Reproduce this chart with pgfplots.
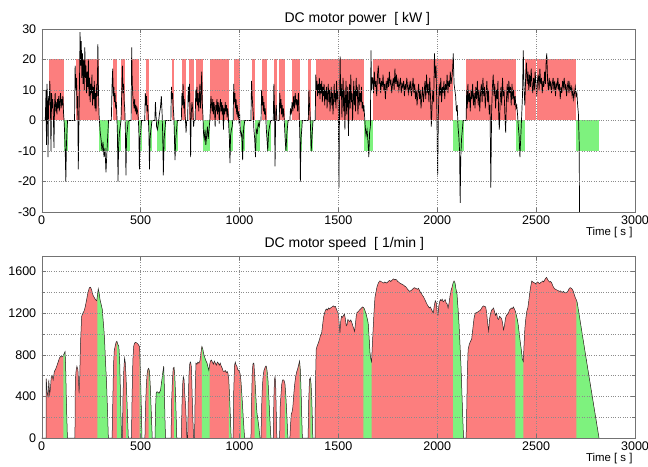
\documentclass[border=0pt]{standalone}
\usepackage{fontspec}
\setmainfont{Liberation Sans}
\usepackage{pgfplots}
\usepackage{pgfplotstable}
\pgfplotsset{compat=1.18}

\definecolor{redfill}{RGB}{252,126,126}
\definecolor{greenfill}{RGB}{126,242,126}

\pgfplotsset{
  gnu/.style={
    scale only axis, width=593.3pt,
    xmin=0, xmax=3000, xtick={0,500,...,3000},
    axis on top, grid style={dotted, black!45}, minor grid style={dotted, black!45},
    axis line style={black!55}, tick style={black!55}, tick align=inside,
    ticklabel style={font=\fontsize{12.5}{14}\selectfont},
    yticklabel style={xshift=-2pt},
    /pgf/number format/assume math mode=true,
    /pgf/number format/set thousands separator={},
    scaled ticks=false,
    title style={anchor=south, font=\fontsize{14}{16}\selectfont},
    xlabel={Time [ s ]},
    xlabel style={at={(axis description cs:1,0)}, anchor=north east,
      yshift=-12pt, xshift=1pt, font=\fontsize{11.4}{13}\selectfont},
  }
}

% speed profile [1/min] over time [s]
\pgfplotstableread[row sep=\\]{
t v\\
0 0\\ 20 0\\ 22 0\\ 23 570\\ 28 430\\ 32 400\\ 36 560\\ 40 420\\ 44 470\\ 48 580\\ 53 600\\ 58 560\\
64 640\\ 70 660\\ 76 690\\ 84 735\\ 90 770\\ 96 784\\ 102 780\\ 109 790\\ 113 810\\ 118 830\\ 121 700\\
124 420\\ 127 200\\ 130 0\\
168 0\\ 170 560\\ 174 650\\ 178 690\\ 183 660\\ 187 520\\ 189 430\\ 192 560\\ 196 900\\ 202 1170\\
208 1200\\ 214 1220\\ 220 1260\\ 227 1330\\ 234 1400\\ 241 1445\\ 247 1450\\ 253 1420\\ 260 1370\\
266 1350\\ 272 1330\\ 278 1320\\ 282 1370\\ 286 1435\\ 290 1400\\ 295 1330\\ 300 1290\\ 306 1240\\
312 1100\\ 317 980\\ 322 760\\ 328 525\\ 333 250\\ 337 0\\
356 0\\ 359 300\\ 363 700\\ 367 840\\ 371 880\\ 376 920\\ 380 930\\ 385 900\\ 390 880\\ 394 760\\
398 450\\ 401 200\\ 404 0\\
408 0\\ 411 400\\ 415 650\\ 419 770\\ 423 720\\ 427 560\\ 430 420\\ 434 200\\ 438 0\\
454 0\\ 457 400\\ 461 750\\ 465 880\\ 469 910\\ 474 920\\ 480 915\\ 486 905\\ 491 890\\ 495 880\\
499 650\\ 502 420\\ 505 180\\ 507 0\\
522 0\\ 525 300\\ 529 500\\ 533 620\\ 537 660\\ 541 670\\ 545 640\\ 549 500\\ 553 300\\ 557 100\\ 559 0\\
573 0\\ 576 300\\ 579 430\\ 583 445\\ 588 440\\ 593 430\\ 597 445\\ 601 460\\ 605 520\\ 609 580\\
613 640\\ 617 690\\ 620 500\\ 623 200\\ 626 0\\
654 0\\ 657 350\\ 661 560\\ 665 670\\ 669 680\\ 673 600\\ 677 400\\ 680 200\\ 683 0\\
706 0\\ 709 300\\ 713 520\\ 716 590\\ 720 560\\ 724 400\\ 728 300\\ 731 150\\ 734 0\\
738 0\\ 741 350\\ 745 620\\ 749 720\\ 753 730\\ 757 680\\ 761 400\\ 765 150\\ 768 0\\
773 0\\ 776 450\\ 780 720\\ 785 710\\ 790 730\\ 795 720\\ 800 740\\ 805 820\\ 810 880\\ 814 860\\
818 820\\ 822 790\\ 827 760\\ 831 740\\ 836 720\\ 841 680\\ 845 650\\ 849 700\\ 853 740\\ 858 750\\
863 730\\ 868 710\\ 873 740\\ 878 720\\ 883 700\\ 888 730\\ 893 720\\ 898 700\\ 903 720\\ 908 690\\
913 670\\ 918 640\\ 923 640\\ 928 650\\ 933 630\\ 938 640\\ 942 620\\ 946 560\\ 950 400\\ 954 200\\ 958 0\\
968 0\\ 971 450\\ 975 700\\ 979 730\\ 983 700\\ 987 690\\ 991 660\\ 995 650\\ 999 640\\ 1003 620\\
1007 560\\ 1011 450\\ 1015 330\\ 1019 200\\ 1023 80\\ 1026 0\\
1058 0\\ 1061 350\\ 1065 650\\ 1069 720\\ 1073 720\\ 1077 600\\ 1081 470\\ 1085 330\\ 1089 230\\
1093 180\\ 1097 120\\ 1101 50\\ 1104 0\\
1109 0\\ 1112 300\\ 1116 500\\ 1120 600\\ 1124 650\\ 1128 670\\ 1132 690\\ 1136 690\\ 1140 640\\
1144 560\\ 1148 420\\ 1152 250\\ 1156 100\\ 1159 0\\
1171 0\\ 1174 380\\ 1177 560\\ 1180 590\\ 1183 520\\ 1186 250\\ 1189 0\\
1203 0\\ 1206 300\\ 1210 420\\ 1214 520\\ 1218 560\\ 1222 560\\ 1226 550\\ 1230 520\\ 1234 420\\
1238 280\\ 1242 120\\ 1245 0\\
1255 0\\ 1258 120\\ 1262 230\\ 1266 250\\ 1270 300\\ 1275 430\\ 1280 530\\ 1285 600\\ 1290 640\\
1295 670\\ 1300 710\\ 1304 740\\ 1308 650\\ 1312 420\\ 1315 200\\ 1318 0\\
1347 0\\ 1350 350\\ 1354 560\\ 1358 580\\ 1362 520\\ 1366 350\\ 1369 150\\ 1371 0\\
1382 0\\ 1384 500\\ 1388 850\\ 1392 880\\ 1396 900\\ 1400 920\\ 1405 950\\ 1410 990\\ 1415 1000\\
1420 1080\\ 1425 1160\\ 1430 1200\\ 1435 1230\\ 1440 1240\\ 1445 1230\\ 1450 1250\\ 1455 1240\\
1460 1250\\ 1465 1255\\ 1470 1265\\ 1475 1270\\ 1480 1260\\ 1485 1265\\ 1490 1240\\ 1495 1215\\
1500 1200\\ 1505 1080\\ 1508 1010\\ 1512 1120\\ 1516 1170\\ 1521 1160\\ 1526 1180\\ 1531 1190\\
1535 1150\\ 1540 1080\\ 1544 1090\\ 1548 1140\\ 1553 1130\\ 1558 1120\\ 1563 1135\\ 1568 1110\\
1573 1080\\ 1578 1050\\ 1582 1025\\ 1587 1110\\ 1592 1200\\ 1597 1210\\ 1602 1220\\ 1607 1230\\
1612 1240\\ 1617 1250\\ 1622 1260\\ 1627 1255\\ 1632 1240\\ 1637 1210\\ 1642 1180\\ 1647 1140\\
1651 1100\\ 1656 950\\ 1660 820\\ 1664 760\\ 1668 735\\ 1672 900\\ 1676 1050\\ 1680 1200\\ 1685 1350\\
1690 1400\\ 1695 1450\\ 1700 1480\\ 1705 1500\\ 1710 1510\\ 1715 1505\\ 1720 1500\\ 1725 1495\\
1730 1490\\ 1735 1500\\ 1740 1495\\ 1745 1490\\ 1750 1500\\ 1755 1510\\ 1760 1515\\ 1765 1505\\
1770 1515\\ 1775 1525\\ 1780 1530\\ 1785 1520\\ 1790 1525\\ 1795 1520\\ 1800 1505\\ 1805 1500\\
1810 1490\\ 1815 1485\\ 1820 1480\\ 1825 1475\\ 1830 1470\\ 1835 1460\\ 1840 1455\\ 1845 1445\\
1850 1430\\ 1855 1420\\ 1860 1410\\ 1865 1415\\ 1870 1420\\ 1875 1430\\ 1880 1440\\ 1885 1445\\
1890 1440\\ 1895 1435\\ 1900 1430\\ 1905 1440\\ 1910 1420\\ 1915 1400\\ 1920 1390\\ 1925 1370\\
1930 1360\\ 1935 1340\\ 1940 1320\\ 1945 1300\\ 1950 1280\\ 1955 1265\\ 1960 1250\\ 1965 1260\\
1970 1240\\ 1975 1220\\ 1980 1200\\ 1985 1270\\ 1990 1320\\ 1995 1300\\ 2000 1200\\ 2004 1185\\
2008 1270\\ 2012 1310\\ 2016 1330\\ 2020 1320\\ 2025 1335\\ 2030 1310\\ 2035 1320\\ 2040 1330\\
2045 1300\\ 2050 1290\\ 2055 1250\\ 2060 1300\\ 2065 1370\\ 2070 1420\\ 2075 1450\\ 2080 1490\\
2085 1510\\ 2090 1490\\ 2095 1430\\ 2100 1380\\ 2105 1250\\ 2110 1100\\ 2115 900\\ 2120 700\\
2125 420\\ 2130 150\\ 2133 0\\
2146 0\\ 2149 250\\ 2152 600\\ 2156 850\\ 2162 900\\ 2168 930\\ 2174 950\\ 2180 1050\\ 2186 1150\\
2192 1200\\ 2198 1205\\ 2204 1210\\ 2210 1220\\ 2216 1225\\ 2222 1240\\ 2228 1260\\ 2234 1270\\
2240 1265\\ 2245 1260\\ 2250 1200\\ 2255 1100\\ 2260 1030\\ 2265 1150\\ 2270 1200\\ 2275 1230\\
2280 1240\\ 2285 1250\\ 2290 1210\\ 2295 1180\\ 2300 1200\\ 2305 1150\\ 2310 1140\\ 2315 1170\\
2320 1160\\ 2325 1150\\ 2330 1110\\ 2335 1040\\ 2340 1080\\ 2345 1150\\ 2350 1180\\ 2355 1190\\
2360 1200\\ 2365 1230\\ 2370 1240\\ 2375 1250\\ 2380 1245\\ 2385 1260\\ 2390 1240\\ 2395 1220\\
2400 1180\\ 2405 1140\\ 2410 1080\\ 2415 1000\\ 2420 920\\ 2425 850\\ 2430 760\\ 2435 735\\
2439 900\\ 2443 1050\\ 2448 1150\\ 2453 1220\\ 2458 1250\\ 2463 1320\\ 2468 1400\\ 2473 1460\\
2478 1510\\ 2483 1500\\ 2488 1495\\ 2493 1490\\ 2498 1480\\ 2503 1495\\ 2508 1500\\ 2513 1490\\
2518 1485\\ 2523 1495\\ 2528 1500\\ 2533 1510\\ 2538 1500\\ 2543 1520\\ 2548 1535\\ 2553 1545\\
2558 1525\\ 2563 1510\\ 2568 1500\\ 2573 1505\\ 2578 1495\\ 2583 1470\\ 2588 1450\\ 2593 1435\\
2598 1430\\ 2603 1425\\ 2608 1420\\ 2613 1415\\ 2618 1410\\ 2623 1415\\ 2628 1405\\ 2633 1400\\
2638 1410\\ 2643 1400\\ 2648 1395\\ 2653 1400\\ 2658 1405\\ 2663 1420\\ 2668 1440\\ 2673 1445\\
2678 1440\\ 2683 1430\\ 2688 1410\\ 2693 1380\\ 2698 1350\\ 2703 1330\\ 2708 1300\\ 2760 680\\ 2818 0\\
}\speed

\begin{document}
\begin{tikzpicture}

% ---------- power ----------
\begin{axis}[gnu,
  at={(41.7pt,254pt)}, anchor=south west, height=183pt,
  ymin=-30, ymax=30, ytick={-30,-20,...,30}, grid=major,
  title={DC motor power\ \ [ kW ]},
  title style={at={(axis description cs:0.532,1)}, yshift=-6pt},
]
\foreach \a/\b in {37/113, 172/288, 360/382, 401/421, 456/494, 527/542, 657/670, 708/731,
  745/771, 782/817, 851/945, 970/1005, 1063/1078, 1114/1137, 1174/1190, 1201/1230,
  1266/1306, 1349/1364, 1386/1631, 1676/2080, 2146/2398, 2443/2499, 2503/2701}{
  \edef\tmp{\noexpand\addplot[fill=redfill, draw=none] coordinates {(\a,0) (\a,20) (\b,20) (\b,0)};}
  \tmp
}
\foreach \a/\b in {113/131, 290/340, 382/401, 426/444, 494/507, 542/559, 583/627, 669/687,
  817/851, 948/966, 1008/1028, 1078/1104, 1137/1158, 1229/1247, 1306/1318, 1358/1373,
  1631/1676, 2081/2135, 2400/2442, 2701/2818}{
  \edef\tmp{\noexpand\addplot[fill=greenfill, draw=none] coordinates {(\a,0) (\a,-10) (\b,-10) (\b,0)};}
  \tmp
}
\addplot[black, line width=0.7pt] coordinates {
(0,0)(18,0)(22,10)(24,-8)(27,12)(30,3)(32,-12)(35,8)(38,5)(41,13)(44,6)(47,-10)(50,9)(53,4)
(56,7)(59,2)(62,-9)(65,5)(68,9)(71,3)(74,6)(77,2)(80,7)(83,4)(86,8)(89,3)(92,6)(95,9)(98,4)
(101,7)(104,5)(107,8)(110,3)(113,0)(116,-4)(119,-10)(122,-20)(125,-8)(128,-3)(131,0)(166,0)
(169,18)(173,10)(176,14)(179,4)(182,8)(185,-16)(188,-2)(191,12)(194,29)(197,18)(200,26)(203,14)
(206,22)(209,12)(212,20)(215,10)(218,24)(221,14)(224,18)(227,9)(230,16)(233,11)(236,20)(239,8)
(242,14)(245,6)(248,12)(251,9)(254,15)(257,5)(260,11)(263,7)(266,13)(269,4)(272,9)(275,3)
(278,12)(281,8)(284,25)(287,10)(290,2)(293,-1)(296,-4)(300,-6)(305,-10)(310,-7)(315,-12)
(320,-9)(325,-17)(330,-10)(334,-5)(338,0)(352,0)
(356,12)(359,17)(362,8)(365,11)(368,6)(371,9)(374,4)(377,6)(380,2)(383,-5)(386,-20)(389,-8)
(393,-4)(397,-2)(401,0)(405,10)(408,18)(411,9)(414,12)(417,6)(420,4)(423,-3)(426,-18)(429,-6)
(433,-3)(438,0)(452,0)(455,24)(458,12)(461,8)(464,6)(467,4)(470,7)(473,3)(476,5)(479,2)(482,4)
(485,3)(488,1)(491,-3)(494,-16)(497,-6)(501,-3)(505,0)(521,0)(524,9)(527,5)(530,8)(533,3)
(536,5)(539,1)(542,-4)(545,-16)(548,-6)(552,-3)(558,0)(572,0)(575,6)(578,2)(581,-2)(585,-3)
(590,-1)(595,2)(600,4)(605,8)(609,2)(612,-5)(615,-18)(619,-6)(623,-3)(627,0)(653,0)
(656,11)(659,7)(662,9)(665,4)(668,2)(671,-5)(674,-13)(678,-6)(682,-3)(686,0)(706,0)
(709,9)(712,5)(715,12)(718,4)(721,7)(724,2)(727,0)(730,-4)(733,0)(738,0)
(741,11)(744,6)(747,12)(750,4)(753,-12)(756,2)(760,6)(764,3)(768,-2)(771,0)(776,0)
(779,10)(782,6)(785,11)(788,5)(791,9)(794,3)(797,7)(800,12)(803,4)(806,8)(809,16)(812,6)
(815,2)(818,-4)(822,-6)(826,-3)(830,-8)(834,-5)(838,-2)(842,-6)(846,-3)(850,0)
(853,4)(856,8)(859,5)(862,3)(865,7)(868,2)(871,6)(874,4)(877,-2)(880,5)(883,3)(886,7)(889,2)
(892,6)(895,4)(898,-1)(901,5)(904,7)(907,3)(910,6)(913,2)(916,5)(919,-3)(922,4)(925,2)(928,6)
(931,3)(934,5)(937,1)(940,4)(943,2)(946,-2)(949,-6)(952,-14)(955,-5)(959,-3)(963,-2)(966,0)
(968,0)(971,12)(974,6)(977,9)(980,4)(983,7)(986,2)(989,5)(992,1)(995,3)(998,-1)(1001,2)
(1004,-3)(1008,-5)(1012,-4)(1016,-13)(1019,-5)(1022,-2)(1027,0)(1058,0)
(1061,13)(1064,8)(1067,5)(1070,2)(1073,-3)(1077,-6)(1081,-12)(1085,-3)(1090,-4)(1095,-1)
(1100,-2)(1104,0)(1109,0)(1112,10)(1115,5)(1118,8)(1121,3)(1124,6)(1127,2)(1130,4)(1133,1)
(1136,-3)(1139,-6)(1143,-10)(1147,-4)(1152,-2)(1158,0)(1171,0)(1174,12)(1177,4)(1180,-15)
(1183,2)(1186,5)(1189,0)(1201,0)(1204,9)(1207,4)(1210,7)(1213,2)(1216,5)(1219,1)(1222,4)
(1225,2)(1228,-2)(1231,-6)(1235,-10)(1240,-4)(1246,0)(1255,0)(1258,4)(1262,2)(1266,6)(1270,3)
(1274,8)(1278,4)(1282,9)(1286,5)(1290,7)(1294,3)(1298,9)(1302,2)(1305,-4)(1308,-20)(1311,-6)
(1315,-3)(1318,0)(1348,0)(1351,10)(1354,5)(1357,2)(1360,-4)(1363,-10)(1367,-5)(1372,0)(1383,0)
(1386,15)(1389,10)(1392,13)(1395,8)(1398,12)(1401,9)(1404,14)(1407,7)(1410,12)(1413,9)(1416,13)
(1419,6)(1422,11)(1425,8)(1428,12)(1431,5)(1434,10)(1437,7)(1440,11)(1443,4)(1446,9)(1449,12)
(1452,6)(1455,10)(1458,3)(1461,8)(1464,11)(1467,5)(1470,9)(1473,2)(1476,7)(1479,12)(1482,6)
(1485,9)(1488,4)(1491,13)(1494,7)(1497,10)(1500,3)(1503,-22)(1506,5)(1509,21)(1512,8)(1515,12)
(1518,1)(1521,9)(1524,14)(1527,3)(1530,10)(1533,-3)(1536,7)(1539,13)(1542,2)(1545,8)(1548,11)
(1551,-5)(1554,6)(1557,12)(1560,4)(1563,15)(1566,6)(1569,9)(1572,0)(1575,7)(1578,13)(1581,5)
(1584,10)(1587,3)(1590,14)(1593,8)(1596,11)(1599,2)(1602,7)(1605,12)(1608,5)(1611,9)(1614,6)
(1617,11)(1620,4)(1623,6)(1626,3)(1629,5)(1632,2)(1636,-2)(1640,-5)(1645,-3)(1650,-7)(1654,-12)
(1658,-4)(1662,-2)(1665,23)(1668,10)(1671,14)(1674,14)(1678,9)(1682,16)(1686,11)(1690,13)
(1694,8)(1698,15)(1702,18)(1706,12)(1710,14)(1714,9)(1718,13)(1722,11)(1726,15)(1730,10)
(1734,12)(1738,7)(1742,13)(1746,10)(1750,14)(1754,11)(1758,16)(1762,12)(1766,13)(1770,9)
(1774,12)(1778,14)(1782,10)(1786,17)(1790,12)(1794,15)(1798,11)(1802,13)(1806,10)(1810,12)
(1814,14)(1818,9)(1822,12)(1826,11)(1830,13)(1834,8)(1838,12)(1842,10)(1846,14)(1850,11)
(1854,9)(1858,12)(1862,10)(1866,13)(1870,8)(1874,11)(1878,14)(1882,9)(1886,12)(1890,7)
(1894,10)(1898,5)(1902,9)(1906,12)(1910,7)(1914,10)(1918,4)(1922,8)(1926,11)(1930,6)(1934,9)
(1938,13)(1942,7)(1946,15)(1950,9)(1954,12)(1958,6)(1962,14)(1966,8)(1970,-2)(1974,5)(1978,10)
(1982,6)(1986,22)(1990,14)(1994,18)(1998,4)(2002,-18)(2006,3)(2010,12)(2014,8)(2018,14)(2022,6)
(2026,11)(2030,9)(2034,13)(2038,7)(2042,12)(2046,10)(2050,15)(2054,9)(2058,13)(2062,11)
(2066,16)(2070,12)(2074,14)(2078,17)(2081,22)(2085,12)(2089,10)(2093,8)(2097,3)(2101,5)
(2105,-2)(2109,-5)(2113,-10)(2116,-27)(2119,-12)(2123,-6)(2127,-3)(2131,0)(2146,0)
(2149,10)(2152,4)(2155,12)(2159,6)(2163,9)(2167,3)(2171,10)(2175,7)(2179,12)(2183,5)(2187,9)
(2191,4)(2195,11)(2199,7)(2203,13)(2207,5)(2211,10)(2215,3)(2219,9)(2223,12)(2227,6)(2231,14)
(2235,8)(2239,11)(2243,4)(2247,9)(2251,13)(2255,6)(2259,10)(2263,2)(2267,5)(2271,-22)(2275,3)
(2279,11)(2283,15)(2287,8)(2291,12)(2295,4)(2299,10)(2303,7)(2307,13)(2311,1)(2314,-3)(2318,6)
(2322,11)(2326,5)(2330,14)(2334,8)(2338,10)(2342,2)(2346,-4)(2350,7)(2354,12)(2358,6)(2362,13)
(2366,9)(2370,11)(2374,5)(2378,12)(2382,7)(2386,10)(2390,5)(2394,8)(2398,4)(2402,5)(2406,2)
(2410,-2)(2414,-5)(2418,-12)(2422,-6)(2426,0)(2431,8)(2435,23)(2439,10)(2443,5)
(2447,14)(2451,19)(2455,12)(2459,16)(2463,10)(2467,15)(2471,11)(2475,17)(2479,12)(2483,9)
(2487,14)(2491,10)(2495,16)(2499,12)(2503,8)(2507,13)(2511,15)(2515,10)(2519,17)(2523,12)
(2527,14)(2531,9)(2535,13)(2539,11)(2543,16)(2547,12)(2551,20)(2554,22)(2558,13)(2562,10)
(2566,14)(2570,11)(2574,13)(2578,9)(2582,12)(2586,14)(2590,10)(2594,13)(2598,8)(2602,12)
(2606,11)(2610,14)(2614,10)(2618,12)(2622,7)(2626,11)(2630,9)(2634,13)(2638,11)(2642,14)
(2646,10)(2650,12)(2654,8)(2658,11)(2662,13)(2666,9)(2670,12)(2674,10)(2678,11)(2682,8)
(2686,10)(2690,7)(2694,9)(2698,11)(2702,8)(2706,9)(2710,5)(2714,2)(2718,-8)(2720,-40)
};
\end{axis}

% ---------- speed ----------
\begin{axis}[gnu,
  at={(41.7pt,28pt)}, anchor=south west, height=182pt,
  ymin=0, ymax=1750, ytick={0,400,...,1600}, minor ytick={200,600,1000,1400},
  grid=both,
  title={DC motor speed\ \ [ 1/min ]},
  title style={at={(axis description cs:0.51,1)}, yshift=-4pt},
]
\addplot[fill=redfill, draw=none] table {\speed};
\foreach \a/\b in {109/130, 282/337, 380/404, 427/438, 495/507, 541/559, 573/626, 669/683,
  810/849, 946/958, 1007/1026, 1077/1104, 1136/1159, 1230/1245, 1304/1318, 1358/1371,
  1627/1668, 2080/2133, 2395/2435, 2703/2818}{
  \edef\tmp{\noexpand\addplot[fill=greenfill, draw=none, restrict x to domain=\a:\b] table {\noexpand\speed} \noexpand\closedcycle;}
  \tmp
}
\addplot[black!85, line width=0.5pt] table {\speed};
\end{axis}

\pgfresetboundingbox
\path[use as bounding box] (0,0) rectangle (648pt,466pt);
\end{tikzpicture}
\end{document}
